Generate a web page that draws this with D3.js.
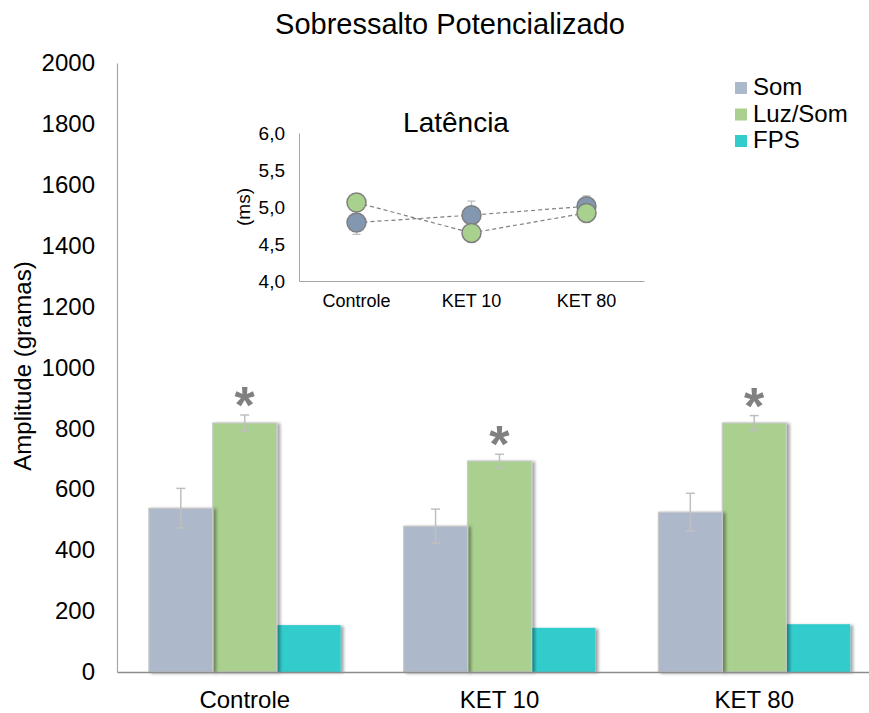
<!DOCTYPE html>
<html>
<head>
<meta charset="utf-8">
<script src="https://cdn.jsdelivr.net/npm/d3@7"></script>
<style>
  html, body { margin: 0; padding: 0; background: #fff; }
  svg { display: block; font-family: "Liberation Sans", Arial, sans-serif; }
</style>
</head>
<body>
<svg id="chart" width="869" height="713"></svg>
<script>
// Main chart: startle amplitude per group
const groups = ["Controle", "KET 10", "KET 80"];
const seriesNames = ["Som", "Luz/Som", "FPS"];
const somValues = [538, 479, 525];
const somErrors = [65, 56, 62];
const luzSomValues = [818, 693, 818];
const luzSomErrors = [26, 22, 24];
const fpsValues = [154, 145, 157];
const significant = [true, true, true];
const yTicks = [0, 200, 400, 600, 800, 1000, 1200, 1400, 1600, 1800, 2000];

// Inset: latency (ms)
const latSom = [4.79, 4.89, 5.01];
const latSomErr = [0.16, 0.19, 0.14];
const latLuzSom = [5.06, 4.65, 4.92];
const latLuzSomErr = [0.05, 0.05, 0.05];
const latTicks = [4.0, 4.5, 5.0, 5.5, 6.0];

const colors = { "Som": "#adb9ca", "Luz/Som": "#a9d08e", "FPS": "#33cccc" };
const markerColors = { "Som": "#8497b0", "Luz/Som": "#a9d18e" };
const FONT = "Liberation Sans, Arial, sans-serif";

const svg = d3.select("#chart");

const defs = svg.append("defs");
const shadow = defs.append("filter").attr("id", "barShadow")
  .attr("x", "-10%").attr("y", "-10%").attr("width", "130%").attr("height", "120%");
shadow.append("feDropShadow")
  .attr("dx", 3).attr("dy", 1).attr("stdDeviation", 1.6)
  .attr("flood-color", "#000").attr("flood-opacity", 0.35);

// ---------- Main chart ----------
const x0 = d3.scaleBand().domain(groups).range([117, 882]).paddingInner(0.247).paddingOuter(0.125);
const x1 = d3.scaleBand().domain(seriesNames).range([0, x0.bandwidth()]);
const y = d3.scaleLinear().domain([0, 2000]).range([672, 63]);

const rows = groups.map((g, i) => ({
  group: g,
  bars: [
    { key: "Som", value: somValues[i], err: somErrors[i] },
    { key: "Luz/Som", value: luzSomValues[i], err: luzSomErrors[i] },
    { key: "FPS", value: fpsValues[i], err: null }
  ],
  sig: significant[i]
}));

const gBars = svg.append("g");
rows.forEach(r => {
  const gg = gBars.append("g").attr("transform", `translate(${x0(r.group)},0)`);
  // right-most bar first so each bar's shadow lands on its right neighbour
  gg.selectAll("rect").data(r.bars.slice().reverse()).join("rect")
    .attr("x", d => x1(d.key))
    .attr("y", d => y(d.value))
    .attr("width", x1.bandwidth())
    .attr("height", d => y(0) - y(d.value))
    .attr("fill", d => colors[d.key])
    .attr("stroke", d => d.key === "FPS" ? "none" : "#c9c9c9")
    .attr("stroke-width", 1.2)
    .attr("filter", "url(#barShadow)");

  // error bars
  r.bars.filter(d => d.err !== null).forEach(d => {
    const cx = x1(d.key) + x1.bandwidth() / 2;
    const eg = gg.append("g").attr("stroke", "#bfbfbf").attr("stroke-width", 1.5);
    eg.append("line").attr("x1", cx).attr("x2", cx).attr("y1", y(d.value - d.err)).attr("y2", y(d.value + d.err));
    eg.append("line").attr("x1", cx - 4.5).attr("x2", cx + 4.5).attr("y1", y(d.value + d.err)).attr("y2", y(d.value + d.err));
    eg.append("line").attr("x1", cx - 4.5).attr("x2", cx + 4.5).attr("y1", y(d.value - d.err)).attr("y2", y(d.value - d.err));
  });

  if (r.sig) {
    const d = r.bars[1];
    gg.append("text")
      .attr("x", x1(d.key) + x1.bandwidth() / 2)
      .attr("y", y(d.value + d.err) + 8)
      .attr("text-anchor", "middle")
      .attr("font-size", 52)
      .attr("font-weight", "bold")
      .attr("fill", "#808080")
      .text("*");
  }
});

// y axis
const yAxis = svg.append("g").attr("transform", "translate(117,0)")
  .call(d3.axisLeft(y).tickValues(yTicks).tickSize(0).tickPadding(22).tickFormat(d3.format("d")));
yAxis.select(".domain").attr("stroke", "#a6a6a6").attr("stroke-width", 1.2);
yAxis.selectAll("text").attr("font-size", 24).attr("fill", "#000").attr("font-family", FONT);

// x axis
const xAxis = svg.append("g").attr("transform", "translate(0,672)")
  .call(d3.axisBottom(x0).tickSize(0).tickPadding(19));
xAxis.select(".domain").attr("stroke", "#8c8c8c").attr("stroke-width", 1.6);
xAxis.selectAll("text").attr("font-size", 24).attr("fill", "#000").attr("font-family", FONT);

// titles
svg.append("text").attr("x", 450).attr("y", 34).attr("text-anchor", "middle")
  .attr("font-size", 29).attr("fill", "#000").text("Sobressalto Potencializado");
svg.append("text").attr("transform", "translate(31,366) rotate(-90)").attr("text-anchor", "middle")
  .attr("font-size", 24).attr("fill", "#000").text("Amplitude (gramas)");

// legend
const legend = svg.append("g").attr("transform", "translate(735,78)");
seriesNames.forEach((s, i) => {
  const lg = legend.append("g").attr("transform", `translate(0,${i * 26.5})`);
  lg.append("rect").attr("x", 0).attr("y", 4).attr("width", 12).attr("height", 12).attr("fill", colors[s]);
  lg.append("text").attr("x", 18).attr("y", 17).attr("font-size", 24).attr("fill", "#000").text(s);
});

// ---------- Inset: Latência ----------
const ix = d3.scaleBand().domain(groups).range([299, 644]);
const iy = d3.scaleLinear().domain([4.0, 6.0]).range([281, 133]);

const iyAxis = svg.append("g").attr("transform", "translate(299,0)")
  .call(d3.axisLeft(iy).tickValues(latTicks).tickSize(0).tickPadding(14)
    .tickFormat(d => d3.format(".1f")(d).replace(".", ",")));
iyAxis.select(".domain").attr("stroke", "#a6a6a6").attr("stroke-width", 1);
iyAxis.selectAll("text").attr("font-size", 19).attr("fill", "#000").attr("font-family", FONT);

const ixAxis = svg.append("g").attr("transform", "translate(0,281)")
  .call(d3.axisBottom(ix).tickSize(0).tickPadding(13));
ixAxis.select(".domain").attr("stroke", "#a6a6a6").attr("stroke-width", 1);
ixAxis.selectAll("text").attr("font-size", 18).attr("fill", "#000").attr("font-family", FONT);

svg.append("text").attr("x", 456).attr("y", 132).attr("text-anchor", "middle")
  .attr("font-size", 28).attr("fill", "#000").text("Latência");
svg.append("text").attr("transform", "translate(250,207) rotate(-90)").attr("text-anchor", "middle")
  .attr("font-size", 19).attr("fill", "#000").text("(ms)");

const latSeries = [
  { key: "Som", values: latSom, errs: latSomErr },
  { key: "Luz/Som", values: latLuzSom, errs: latLuzSomErr }
];
const cxOf = i => ix(groups[i]) + ix.bandwidth() / 2;
const line = d3.line().x((d, i) => cxOf(i)).y(d => iy(d));

latSeries.forEach(s => {
  svg.append("path").datum(s.values).attr("d", line)
    .attr("fill", "none").attr("stroke", "#808080").attr("stroke-width", 1.2)
    .attr("stroke-dasharray", "4,3");
});
latSeries.forEach(s => {
  const eg = svg.append("g").attr("stroke", "#bfbfbf").attr("stroke-width", 1.3);
  s.values.forEach((v, i) => {
    const cx = cxOf(i);
    eg.append("line").attr("x1", cx).attr("x2", cx).attr("y1", iy(v - s.errs[i])).attr("y2", iy(v + s.errs[i]));
    [v - s.errs[i], v + s.errs[i]].forEach(e => {
      eg.append("line").attr("x1", cx - 4).attr("x2", cx + 4).attr("y1", iy(e)).attr("y2", iy(e));
    });
  });
});
latSeries.forEach(s => {
  svg.append("g").selectAll("circle").data(s.values).join("circle")
    .attr("cx", (d, i) => cxOf(i))
    .attr("cy", d => iy(d))
    .attr("r", 9.5)
    .attr("fill", markerColors[s.key])
    .attr("stroke", "#7f7f7f")
    .attr("stroke-width", 1.5);
});
</script>
</body>
</html>
